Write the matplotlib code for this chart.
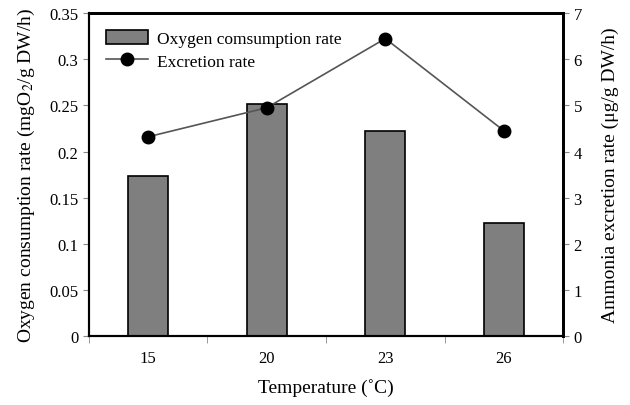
import matplotlib.pyplot as plt
import numpy as np

plt.rcParams['font.family'] = ['Liberation Serif', 'DejaVu Serif']
plt.rcParams['mathtext.fontset'] = 'stix'

temps = ['15', '20', '23', '26']
oxygen = [0.173, 0.252, 0.222, 0.122]
excretion = [4.32, 4.95, 6.45, 4.45]

x = np.arange(len(temps))

fig = plt.figure(figsize=(6.3, 4.06), dpi=100)
ax = fig.add_axes([0.141, 0.170, 0.753, 0.795])
ax2 = ax.twinx()

bars = ax.bar(x, oxygen, width=0.34, color='#7f7f7f', edgecolor='black',
              linewidth=1.2, label='Oxygen comsumption rate')
line, = ax2.plot(x, excretion, color='#555555', linewidth=1.2, marker='o',
                 markersize=9, markerfacecolor='black', markeredgecolor='black',
                 label='Excretion rate')

ax.set_xlim(-0.5, 3.5)
ax.set_ylim(0, 0.35)
ax2.set_ylim(0, 7)
ax.set_yticks(np.arange(0, 0.351, 0.05))
ax.set_yticklabels(['0', '0.05', '0.1', '0.15', '0.2', '0.25', '0.3', '0.35'])
ax2.set_yticks(range(8))

ax.set_xticks(x)
ax.set_xticklabels(temps)
ax.set_xticks(np.arange(-0.5, 3.6, 1), minor=True)
ax.tick_params(axis='x', which='major', length=0, pad=10, labelsize=12)
ax.tick_params(axis='x', which='minor', length=5, color='#888888')
ax.tick_params(axis='y', direction='out', length=4, color='#888888', labelsize=12)
ax2.tick_params(axis='y', direction='out', length=4, color='#888888', labelsize=12)

for a in (ax, ax2):
    for s in a.spines.values():
        s.set_color('black')
    a.spines['top'].set_linewidth(2)
    a.spines['right'].set_linewidth(2)
    a.spines['left'].set_linewidth(1.5)
    a.spines['bottom'].set_linewidth(1.5)

ax.set_xlabel('Temperature (˚C)', fontsize=14, labelpad=9)
ax.set_ylabel('Oxygen consumption rate (mgO$_2$/g DW/h)', fontsize=14, labelpad=9)
ax2.set_ylabel('Ammonia excretion rate (μg/g DW/h)', fontsize=14, labelpad=14)

ax2.legend([bars, line], ['Oxygen comsumption rate', 'Excretion rate'],
           loc='upper left', bbox_to_anchor=(0.015, 0.98), frameon=False,
           fontsize=12.5, handlelength=2.4, handleheight=0.9, labelspacing=0.3,
           handletextpad=0.5, borderaxespad=0.2)

fig.savefig('out.png', dpi=100)
